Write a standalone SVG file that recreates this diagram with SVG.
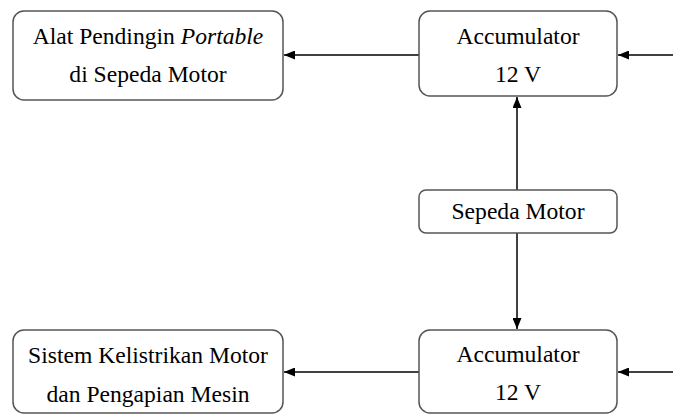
<svg xmlns="http://www.w3.org/2000/svg" width="673" height="415" viewBox="0 0 673 415" font-family="Liberation Serif, Times New Roman, serif">
<style>
.box{fill:#fff;stroke:#555;stroke-width:1.5}
.t{font-size:23.6px;fill:#000;text-anchor:middle}
.c{stroke:#000;stroke-width:1.5;fill:none;marker-end:url(#ah)}
</style>
<defs>
<marker id="ah" viewBox="0 0 11 9" refX="11" refY="4.5" markerWidth="11" markerHeight="9" markerUnits="userSpaceOnUse" orient="auto">
<path d="M0,0 L11,4.5 L0,9 z" fill="#000"/>
</marker>
</defs>
<rect width="673" height="415" fill="#fff"/>
<g id="connectors">
<line class="c" x1="673" y1="55" x2="618" y2="55"/>
<line class="c" x1="419" y1="55" x2="284" y2="55"/>
<line class="c" x1="517" y1="190" x2="517" y2="97"/>
<line class="c" x1="517" y1="233" x2="517" y2="329"/>
<line class="c" x1="673" y1="372" x2="618" y2="372"/>
<line class="c" x1="419" y1="372" x2="284" y2="372"/>
</g>
<g id="alat">
<rect class="box" x="13" y="11" width="270" height="89" rx="11"/>
<text class="t" x="148" y="44">Alat Pendingin <tspan font-style="italic">Portable</tspan></text>
<text class="t" x="148" y="82">di Sepeda Motor</text>
</g>
<g id="acc1">
<rect class="box" x="419" y="11" width="198" height="85" rx="11"/>
<text class="t" x="518" y="44">Accumulator</text>
<text class="t" x="518" y="82">12 V</text>
</g>
<g id="sepeda">
<rect class="box" x="419" y="190" width="198" height="43" rx="7"/>
<text class="t" x="518" y="219">Sepeda Motor</text>
</g>
<g id="acc2">
<rect class="box" x="419" y="330" width="198" height="83" rx="11"/>
<text class="t" x="518" y="362">Accumulator</text>
<text class="t" x="518" y="400">12 V</text>
</g>
<g id="sistem">
<rect class="box" x="13" y="330" width="270" height="83" rx="11"/>
<text class="t" x="148" y="363">Sistem Kelistrikan Motor</text>
<text class="t" x="148" y="402">dan Pengapian Mesin</text>
</g>
</svg>
